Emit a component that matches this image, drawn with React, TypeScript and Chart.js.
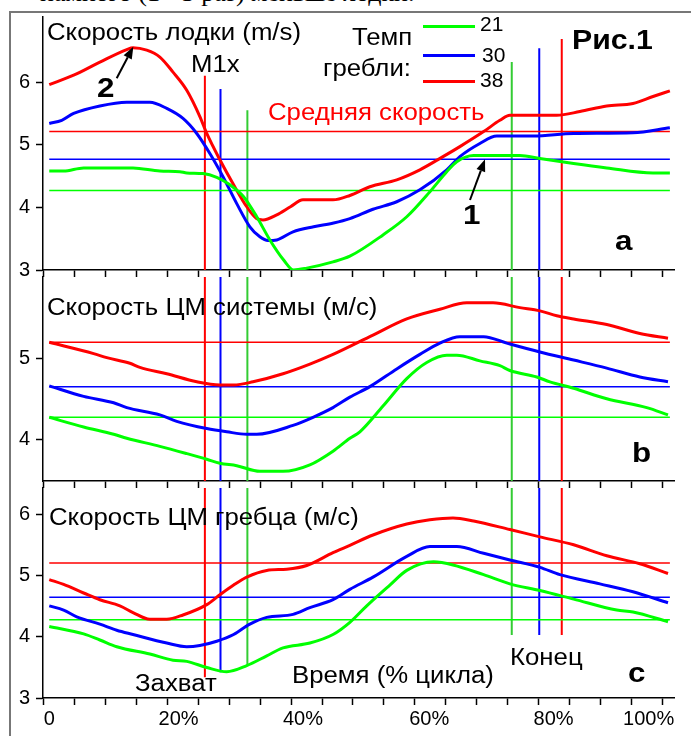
import React, { useEffect, useRef } from 'react';
import { Chart, registerables } from 'chart.js';
Chart.register(...registerables);

const FONT = "'Liberation Sans', Arial, Helvetica, sans-serif";
const RED = '#ff0000';
const BLUE = '#0000ff';
const GREEN = '#00ff00';
const GREEN_V = '#33cc33';

// ---- x axis (percent of stroke cycle) ----
const X_MIN = -1.6;
const X_MAX = 99.36;
const X_TICK_MARKS = Array.from({ length: 21 }, (_, k) => -1.552 + 4.955 * k);
const X_LABEL_POS = [-0.6, 20.1, 40, 60.2, 80.1, 95.3];
const X_LABELS = ['0', '20%', '40%', '60%', '80%', '100%'];
const MEAN_X = [-0.6, 98.7];

// ---- stroke rates: 21, 30, 38 (green, blue, red) ----
// catch / finish markers (red, blue, green)
const CATCH_X = [24.3, 26.8, 31.1];
const END_X = [81.4, 77.8, 73.4];
const A_CATCH_TOP = [6.1, 5.89, 5.55];
const A_END_TOP = [6.69, 6.54, 6.32];
const C_CATCH_BOTTOM = [3.34, 3.42, 3.53];
const C_END_BOTTOM = [4.03, 4.03, 4.03];

// ---- Panel a: boat speed ----
const A_RED_X = [-0.6, 3.3, 7.5, 11.8, 12.8, 15, 17.1, 19.2, 21.4, 23.5, 24.6, 26.7, 28.9, 31, 32.6, 33.6, 35.8, 38, 40, 44.8, 47.5, 50.7, 55, 58.7, 62.4, 65.1, 68.9, 71.5, 73.1, 80.6, 84.3, 88.6, 92.8, 96, 98.7];
const A_RED_Y = [5.96, 6.11, 6.32, 6.52, 6.55, 6.51, 6.4, 6.16, 5.87, 5.45, 5.18, 4.76, 4.36, 4.01, 3.82, 3.8, 3.88, 4.01, 4.12, 4.12, 4.19, 4.33, 4.44, 4.6, 4.81, 4.97, 5.21, 5.39, 5.47, 5.47, 5.53, 5.62, 5.66, 5.77, 5.86];
const A_BLUE_X = [-0.6, 1.4, 3.3, 7.5, 11.8, 15.5, 18.2, 20.8, 23, 25.1, 27.2, 29.4, 31.5, 33.1, 34.4, 35.8, 38.4, 41.7, 44.9, 47.5, 51.2, 55, 58.7, 63, 65.1, 68.3, 71, 76.9, 83.3, 92.8, 98.7];
const A_BLUE_Y = [5.34, 5.39, 5.5, 5.62, 5.68, 5.68, 5.58, 5.42, 5.18, 4.86, 4.49, 4.06, 3.69, 3.53, 3.47, 3.48, 3.61, 3.69, 3.75, 3.82, 3.97, 4.09, 4.28, 4.6, 4.81, 5.02, 5.14, 5.14, 5.18, 5.19, 5.27];
const A_GREEN_X = [-0.6, 1.7, 4.9, 12.8, 17.1, 20.3, 21.4, 24, 26.2, 28.3, 30.5, 32.6, 34.7, 36.9, 38.5, 40.6, 44.8, 47.5, 52.8, 56.6, 60.3, 63, 64.6, 67.3, 74.7, 77.9, 83.3, 88.6, 96, 98.7];
const A_GREEN_Y = [4.58, 4.58, 4.63, 4.63, 4.58, 4.57, 4.55, 4.54, 4.48, 4.36, 4.17, 3.85, 3.48, 3.16, 3.0, 3.03, 3.13, 3.22, 3.56, 3.85, 4.25, 4.57, 4.73, 4.83, 4.83, 4.78, 4.7, 4.63, 4.55, 4.55];
const A_MEANS = [5.21, 4.77, 4.27];

// ---- Panel b: system CM speed ----
const B_RED_X = [-0.6, 6.5, 8.6, 12.3, 13.9, 18.2, 23, 26.7, 28.9, 32, 36.8, 41.1, 44.8, 51.2, 56.6, 61.9, 66.2, 70.4, 74.7, 77.9, 80.6, 83.3, 88.6, 93.9, 98.4];
const B_RED_Y = [5.2, 5.06, 5.01, 4.94, 4.89, 4.81, 4.71, 4.67, 4.67, 4.71, 4.81, 4.93, 5.05, 5.29, 5.49, 5.61, 5.69, 5.69, 5.63, 5.59, 5.53, 5.49, 5.42, 5.31, 5.25];
const B_BLUE_X = [-0.6, 4.9, 9.7, 11.8, 17.1, 19.8, 24.6, 27.8, 31, 32.6, 38.4, 41.6, 44.8, 47.5, 50.7, 55, 58.7, 61.9, 65.1, 68.9, 72.6, 77.9, 83.3, 88.6, 93.9, 98.4];
const B_BLUE_Y = [4.66, 4.53, 4.45, 4.39, 4.3, 4.22, 4.13, 4.09, 4.06, 4.06, 4.17, 4.27, 4.39, 4.52, 4.65, 4.87, 5.05, 5.19, 5.27, 5.27, 5.19, 5.08, 4.98, 4.88, 4.77, 4.71];
const B_GREEN_X = [-0.6, 4.9, 9.7, 11.8, 17.1, 21.4, 24.6, 26.7, 29.4, 33.1, 36.8, 41.1, 44.8, 47.5, 49.1, 52.8, 56.6, 59.8, 63, 64.6, 68.3, 71.5, 73.1, 77.4, 79.5, 83.3, 88.6, 95, 98.4];
const B_GREEN_Y = [4.27, 4.15, 4.06, 4.01, 3.91, 3.82, 3.75, 3.7, 3.67, 3.6, 3.6, 3.68, 3.85, 4.01, 4.09, 4.41, 4.75, 4.95, 5.04, 5.04, 4.97, 4.91, 4.85, 4.77, 4.71, 4.63, 4.5, 4.39, 4.3];
const B_MEANS = [5.2, 4.65, 4.27];

// ---- Panel c: rower CM speed ----
const C_RED_X = [-0.6, 1.7, 4.9, 7.5, 10.7, 12.8, 15.5, 18.2, 20.8, 24.6, 26.7, 28.9, 31, 34.2, 37.4, 40.6, 44.8, 47.5, 51.2, 56.6, 60.3, 64, 67.3, 73.1, 77.9, 83.3, 88.6, 93.9, 98.4];
const C_RED_Y = [4.94, 4.86, 4.72, 4.61, 4.51, 4.4, 4.29, 4.29, 4.36, 4.53, 4.69, 4.85, 4.98, 5.09, 5.11, 5.17, 5.38, 5.5, 5.67, 5.85, 5.92, 5.95, 5.9, 5.76, 5.64, 5.51, 5.33, 5.2, 5.04];
const C_BLUE_X = [-0.6, 1.7, 3.8, 7.5, 10.2, 12.8, 18.2, 21.4, 23.5, 26.2, 28.9, 31.5, 34.2, 38.4, 41.1, 44.8, 47.5, 51.2, 56.6, 60.3, 64.6, 68.9, 73.1, 77.9, 81.1, 87.5, 92.8, 98.4];
const C_BLUE_Y = [4.51, 4.44, 4.33, 4.21, 4.11, 4.04, 3.9, 3.84, 3.86, 3.93, 4.04, 4.21, 4.32, 4.37, 4.48, 4.61, 4.78, 4.98, 5.32, 5.48, 5.48, 5.37, 5.26, 5.14, 5.02, 4.87, 4.74, 4.56];
const C_GREEN_X = [-0.6, 4.9, 7.5, 10.2, 15.5, 19.2, 21.4, 24.6, 27.8, 31, 34.2, 36.8, 41.1, 44.8, 47.5, 50.2, 53.9, 56.6, 60.9, 64, 68.9, 73.1, 77.9, 83.3, 90.2, 92.8, 98.4];
const C_GREEN_Y = [4.17, 4.05, 3.95, 3.84, 3.72, 3.62, 3.6, 3.5, 3.43, 3.53, 3.69, 3.82, 3.9, 4.04, 4.24, 4.51, 4.85, 5.09, 5.23, 5.18, 5.02, 4.87, 4.76, 4.62, 4.44, 4.41, 4.25];
const C_MEANS = [5.21, 4.65, 4.28];

const pts = (xs: number[], ys: number[]) => xs.map((x, i) => ({ x, y: ys[i] }));

type PanelCfg = {
  yMin: number;
  yMax: number;
  yTicks: number[];
  padTop: number;
  axisH: number;
  showLabels: boolean;
  curves: { xs: number[]; ys: number[]; color: string }[];
  means: { y: number; color: string }[];
  markers: { x: number; y0: number; y1: number; color: string }[];
};

function buildChart(canvas: HTMLCanvasElement, p: PanelCfg) {
  const labelSet = new Set(X_LABEL_POS);
  const allTicks = [...X_TICK_MARKS, ...(p.showLabels ? X_LABEL_POS : [])].sort((a, b) => a - b);
  const datasets: any[] = [];
  p.curves.forEach((c) =>
    datasets.push({
      data: pts(c.xs, c.ys),
      borderColor: c.color,
      borderWidth: 3,
      pointRadius: 0,
      cubicInterpolationMode: 'monotone',
      fill: false,
    })
  );
  p.means.forEach((m) =>
    datasets.push({
      data: MEAN_X.map((x) => ({ x, y: m.y })),
      borderColor: m.color,
      borderWidth: 1.5,
      pointRadius: 0,
      fill: false,
    })
  );
  p.markers.forEach((m) =>
    datasets.push({
      data: [
        { x: m.x, y: m.y0 },
        { x: m.x, y: m.y1 },
      ],
      borderColor: m.color,
      borderWidth: 2,
      pointRadius: 0,
      fill: false,
    })
  );
  return new Chart(canvas, {
    type: 'line',
    data: { datasets },
    options: {
      animation: false,
      responsive: false,
      devicePixelRatio: 1,
      layout: { padding: { top: p.padTop, left: 0, right: 17, bottom: 0 } },
      plugins: { legend: { display: false }, tooltip: { enabled: false }, title: { display: false } },
      scales: {
        x: {
          type: 'linear',
          min: X_MIN,
          max: X_MAX,
          afterBuildTicks: (s: any) => {
            s.ticks = allTicks.map((v) => ({ value: v }));
          },
          afterFit: (s: any) => {
            s.height = p.axisH;
          },
          grid: {
            drawOnChartArea: false,
            drawTicks: true,
            tickLength: 7,
            tickWidth: 1.5,
            tickColor: (ctx: any) =>
              ctx.tick && labelSet.has(ctx.tick.value) && !X_TICK_MARKS.includes(ctx.tick.value) ? 'rgba(0,0,0,0)' : '#000',
          },
          border: { display: true, color: '#000', width: 1.5 },
          ticks: {
            display: p.showLabels,
            autoSkip: false,
            maxRotation: 0,
            minRotation: 0,
            padding: 2,
            color: '#000',
            font: { family: FONT, size: 20 },
            callback: (v: any) => {
              const i = X_LABEL_POS.indexOf(Number(v));
              return i >= 0 ? X_LABELS[i] : '';
            },
          },
        },
        y: {
          type: 'linear',
          min: p.yMin,
          max: p.yMax,
          afterBuildTicks: (s: any) => {
            s.ticks = p.yTicks.map((v) => ({ value: v }));
          },
          afterFit: (s: any) => {
            s.width = 43;
          },
          grid: { drawOnChartArea: false, drawTicks: true, tickLength: 7, tickWidth: 1.5, tickColor: '#000' },
          border: { display: true, color: '#000', width: 1.5 },
          ticks: {
            padding: 6,
            color: '#000',
            font: { family: FONT, size: 20, lineHeight: 0.1 },
            callback: (v: any) => String(v),
          },
        },
      },
    },
  } as any);
}

const PANEL_A: PanelCfg = {
  yMin: 3,
  yMax: 7.04,
  yTicks: [3, 4, 5, 6],
  padTop: 17,
  axisH: 8,
  showLabels: false,
  curves: [
    { xs: A_GREEN_X, ys: A_GREEN_Y, color: GREEN },
    { xs: A_BLUE_X, ys: A_BLUE_Y, color: BLUE },
    { xs: A_RED_X, ys: A_RED_Y, color: RED },
  ],
  means: [
    { y: A_MEANS[0], color: RED },
    { y: A_MEANS[1], color: BLUE },
    { y: A_MEANS[2], color: GREEN },
  ],
  markers: [
    { x: CATCH_X[0], y0: A_CATCH_TOP[0], y1: 3, color: RED },
    { x: CATCH_X[1], y0: A_CATCH_TOP[1], y1: 3, color: BLUE },
    { x: CATCH_X[2], y0: A_CATCH_TOP[2], y1: 3, color: GREEN_V },
    { x: END_X[0], y0: A_END_TOP[0], y1: 3, color: RED },
    { x: END_X[1], y0: A_END_TOP[1], y1: 3, color: BLUE },
    { x: END_X[2], y0: A_END_TOP[2], y1: 3, color: GREEN_V },
  ],
};

const PANEL_B: PanelCfg = {
  yMin: 3.48,
  yMax: 6.01,
  yTicks: [4, 5],
  padTop: 0,
  axisH: 8,
  showLabels: false,
  curves: [
    { xs: B_GREEN_X, ys: B_GREEN_Y, color: GREEN },
    { xs: B_BLUE_X, ys: B_BLUE_Y, color: BLUE },
    { xs: B_RED_X, ys: B_RED_Y, color: RED },
  ],
  means: [
    { y: B_MEANS[0], color: RED },
    { y: B_MEANS[1], color: BLUE },
    { y: B_MEANS[2], color: GREEN },
  ],
  markers: [
    { x: CATCH_X[0], y0: 6.01, y1: 3.48, color: RED },
    { x: CATCH_X[1], y0: 6.01, y1: 3.48, color: BLUE },
    { x: CATCH_X[2], y0: 6.01, y1: 3.48, color: GREEN_V },
    { x: END_X[0], y0: 6.01, y1: 3.48, color: RED },
    { x: END_X[1], y0: 6.01, y1: 3.48, color: BLUE },
    { x: END_X[2], y0: 6.01, y1: 3.48, color: GREEN_V },
  ],
};

const PANEL_C: PanelCfg = {
  yMin: 3,
  yMax: 6.44,
  yTicks: [3, 4, 5, 6],
  padTop: 0,
  axisH: 38,
  showLabels: true,
  curves: [
    { xs: C_GREEN_X, ys: C_GREEN_Y, color: GREEN },
    { xs: C_BLUE_X, ys: C_BLUE_Y, color: BLUE },
    { xs: C_RED_X, ys: C_RED_Y, color: RED },
  ],
  means: [
    { y: C_MEANS[0], color: RED },
    { y: C_MEANS[1], color: BLUE },
    { y: C_MEANS[2], color: GREEN },
  ],
  markers: [
    { x: CATCH_X[0], y0: 6.44, y1: C_CATCH_BOTTOM[0], color: RED },
    { x: CATCH_X[1], y0: 6.44, y1: C_CATCH_BOTTOM[1], color: BLUE },
    { x: CATCH_X[2], y0: 6.44, y1: C_CATCH_BOTTOM[2], color: GREEN_V },
    { x: END_X[0], y0: 6.44, y1: C_END_BOTTOM[0], color: RED },
    { x: END_X[1], y0: 6.44, y1: C_END_BOTTOM[1], color: BLUE },
    { x: END_X[2], y0: 6.44, y1: C_END_BOTTOM[2], color: GREEN_V },
  ],
};

function Panel({ cfg, top, height }: { cfg: PanelCfg; top: number; height: number }) {
  const ref = useRef<HTMLCanvasElement | null>(null);
  useEffect(() => {
    if (!ref.current) return;
    const ch = buildChart(ref.current, cfg);
    return () => ch.destroy();
  }, [cfg]);
  return <canvas ref={ref} width={691} height={height} style={{ position: 'absolute', left: 0, top, width: 691, height }} />;
}

const SX = 1.12;
function T({ x, b, s, t, w = 400, c = '#000', sx = SX }: { x: number; b: number; s: number; t: string; w?: number; c?: string; sx?: number }) {
  return (
    <div
      style={{
        position: 'absolute',
        left: x,
        top: b - 0.8465 * s,
        fontFamily: FONT,
        fontSize: s,
        lineHeight: `${s}px`,
        fontWeight: w,
        color: c,
        whiteSpace: 'nowrap',
        transform: `scaleX(${sx})`,
        transformOrigin: 'left top',
      }}
    >
      {t}
    </div>
  );
}

function Arrow({ x1, y1, x2, y2 }: { x1: number; y1: number; x2: number; y2: number }) {
  const dx = x2 - x1;
  const dy = y2 - y1;
  const len = Math.hypot(dx, dy);
  const ux = dx / len;
  const uy = dy / len;
  const hl = 12;
  const hw = 4.6;
  const bx = x2 - ux * hl;
  const by = y2 - uy * hl;
  const px = -uy;
  const py = ux;
  return (
    <g>
      <line x1={x1} y1={y1} x2={bx} y2={by} stroke="#000" strokeWidth={2} />
      <polygon points={`${x2},${y2} ${bx + px * hw},${by + py * hw} ${bx - px * hw},${by - py * hw}`} fill="#000" />
    </g>
  );
}

export default function App() {
  return (
    <div style={{ position: 'absolute', left: 0, top: 0, width: 691, height: 736, overflow: 'hidden', background: '#fff' }}>
      <div
        style={{
          position: 'absolute',
          left: 40,
          top: 3 - 0.891 * 26,
          fontFamily: "'Liberation Serif', 'Times New Roman', serif",
          fontSize: 26,
          lineHeight: '26px',
          whiteSpace: 'nowrap',
          color: '#000',
        }}
      >
        намного (1 - 3 раз) меньше лодки.
      </div>
      <div style={{ position: 'absolute', left: 9, top: 11, width: 700, height: 740, borderLeft: '2px solid #777777', borderTop: '2px solid #777777' }} />
      <Panel cfg={PANEL_A} top={0} height={278} />
      <Panel cfg={PANEL_B} top={270} height={219} />
      <Panel cfg={PANEL_C} top={481} height={255} />

      {/* legend */}
      <div style={{ position: 'absolute', left: 423, top: 25, width: 52, height: 3, background: GREEN }} />
      <div style={{ position: 'absolute', left: 423, top: 53.5, width: 52, height: 3, background: BLUE }} />
      <div style={{ position: 'absolute', left: 423, top: 79.5, width: 52, height: 3, background: RED }} />
      <T x={480} b={31} s={20} t="21" sx={1.05} />
      <T x={482} b={61.5} s={20} t="30" sx={1.05} />
      <T x={480} b={86.5} s={20} t="38" sx={1.05} />
      <T x={352} b={45} s={23} t="Темп" />
      <T x={323} b={76} s={23} t="гребли:" />

      <T x={47} b={40} s={23} t="Скорость лодки (m/s)" />
      <T x={191} b={72} s={23} t="M1x" />
      <T x={268} b={120} s={23} t="Средняя скорость" c={RED} />
      <T x={572} b={50} s={27} t="Рис.1" w={700} />
      <T x={97} b={98} s={28} t="2" w={700} />
      <T x={463} b={225} s={28} t="1" w={700} />
      <T x={615} b={251} s={28} t="a" w={700} />

      <T x={47} b={315} s={23} t="Скорость ЦМ системы (м/с)" />
      <T x={632} b={463} s={28} t="b" w={700} />

      <T x={49} b={525} s={23} t="Скорость ЦМ гребца (м/с)" />
      <T x={135} b={691} s={23} t="Захват" />
      <T x={292} b={683} s={23} t="Время (% цикла)" />
      <T x={510} b={665} s={23} t="Конец" />
      <T x={628} b={683} s={28} t="c" w={700} />

      <svg width={691} height={736} style={{ position: 'absolute', left: 0, top: 0, pointerEvents: 'none' }}>
        <Arrow x1={116.7} y1={78.3} x2={133.3} y2={46.7} />
        <Arrow x1={470} y1={200} x2={485} y2={159.3} />
      </svg>
    </div>
  );
}
